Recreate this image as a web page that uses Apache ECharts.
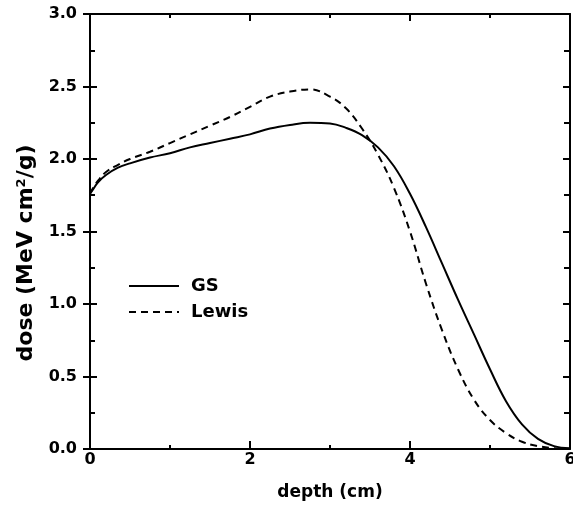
<!DOCTYPE html>
<html>
<head>
<meta charset="utf-8">
<script src="https://cdn.jsdelivr.net/npm/echarts@6/dist/echarts.min.js"></script>
<style>html,body{margin:0;padding:0;background:#fff}#c{width:573px;height:510px}</style>
</head>
<body>
<div id="c"></div>
<script>
var depth = [0, 0.05, 0.1, 0.2, 0.35, 0.5, 0.75, 1.0, 1.25, 1.5, 1.75, 2.0, 2.25, 2.5, 2.75, 3.0, 3.2, 3.4, 3.6, 3.8, 4.0, 4.2, 4.4, 4.6, 4.8, 5.0, 5.2, 5.4, 5.6, 5.8, 6.0];
var gsDose = [1.76, 1.80, 1.84, 1.89, 1.94, 1.97, 2.01, 2.04, 2.08, 2.11, 2.14, 2.17, 2.21, 2.235, 2.25, 2.245, 2.215, 2.165, 2.08, 1.95, 1.76, 1.53, 1.28, 1.03, 0.79, 0.55, 0.33, 0.17, 0.07, 0.02, 0.005];
var lewisDose = [1.76, 1.81, 1.85, 1.91, 1.96, 2.00, 2.05, 2.11, 2.17, 2.23, 2.29, 2.36, 2.43, 2.465, 2.48, 2.43, 2.35, 2.21, 2.03, 1.80, 1.50, 1.14, 0.82, 0.55, 0.34, 0.20, 0.11, 0.05, 0.02, 0.005, 0.0];
var seriesNames = ['GS', 'Lewis'];
var xTitle = 'depth (cm)';
var yTitle = 'dose (MeV cm{sup|2}/g)';

function pairs(xs, ys) { return xs.map(function (x, i) { return [x, ys[i]]; }); }

var FONT = '"DejaVu Sans", sans-serif';
function axisLine() { return { show: true, onZero: false, lineStyle: { color: '#000', width: 2 } }; }
function grid() { return { left: 90, right: 3, top: 14, bottom: 61, outerBoundsMode: 'none', containLabel: false }; }
function tick(inside, len) { return { show: true, inside: inside, length: len, lineStyle: { color: '#000', width: 2 } }; }
function minor(len) { return { show: true, splitNumber: 2, length: len, lineStyle: { color: '#000', width: 2 } }; }

var chart = echarts.init(document.getElementById('c'));
chart.setOption({
  animation: false,
  backgroundColor: '#fff',
  grid: [grid(), grid()],
  legend: {
    data: seriesNames,
    orient: 'vertical',
    left: 128, top: 277, padding: 0,
    itemWidth: 50, itemHeight: 16, itemGap: 8,
    itemStyle: { color: 'rgba(0,0,0,0)', borderColor: 'rgba(0,0,0,0)', borderWidth: 0 },
    textStyle: { fontFamily: FONT, fontWeight: 'bold', fontSize: 18, color: '#000', padding: [0, 0, 0, 7] }
  },
  xAxis: [
    { type: 'value', gridIndex: 0, position: 'bottom', min: 0, max: 6, interval: 2,
      axisLine: axisLine(), axisTick: tick(true, 8), minorTick: minor(4),
      axisLabel: { fontFamily: FONT, fontWeight: 'bold', fontSize: 16, color: '#000', margin: 3 },
      splitLine: { show: false },
      name: xTitle, nameLocation: 'middle', nameGap: 35,
      nameTextStyle: { fontFamily: FONT, fontWeight: 'bold', fontSize: 17, color: '#000' } },
    { type: 'value', gridIndex: 0, position: 'top', min: 0, max: 6, interval: 2,
      axisLine: axisLine(), axisTick: tick(true, 7), minorTick: minor(4),
      axisLabel: { show: false }, splitLine: { show: false } },
    { type: 'value', gridIndex: 1, min: 0, max: 6, show: false, axisLine: { onZero: false } }
  ],
  yAxis: [
    { type: 'value', gridIndex: 0, position: 'left', min: 0, max: 3, interval: 0.5,
      axisLine: axisLine(), axisTick: tick(false, 7),
      axisLabel: { fontFamily: FONT, fontWeight: 'bold', fontSize: 16, color: '#000', margin: 13,
        formatter: function (v) { return v.toFixed(1); } },
      splitLine: { show: false } },
    { type: 'value', gridIndex: 0, position: 'right', min: 0, max: 3, interval: 0.5,
      axisLine: axisLine(), axisTick: tick(true, 7), minorTick: minor(6),
      axisLabel: { show: false }, splitLine: { show: false } },
    { type: 'value', gridIndex: 1, position: 'left', min: 0, max: 3, interval: 0.5,
      axisLine: { show: false, onZero: false }, axisTick: tick(true, 7), minorTick: minor(5),
      axisLabel: { show: false }, splitLine: { show: false } }
  ],
  graphic: [{
    type: 'text', x: 26, y: 253, rotation: Math.PI / 2,
    style: {
      text: yTitle, align: 'center', verticalAlign: 'middle',
      fontFamily: FONT, fontWeight: 'bold', fontSize: 22, fill: '#000',
      rich: { sup: { fontFamily: FONT, fontWeight: 'bold', fontSize: 13, fill: '#000', verticalAlign: 'top' } }
    }
  }],
  series: [
    { name: seriesNames[0], type: 'line', xAxisIndex: 0, yAxisIndex: 0, data: pairs(depth, gsDose),
      smooth: 0.4, symbol: 'none', lineStyle: { color: '#000', width: 2, type: 'solid' }, itemStyle: { color: '#000' } },
    { name: seriesNames[1], type: 'line', xAxisIndex: 0, yAxisIndex: 0, data: pairs(depth, lewisDose),
      smooth: 0.4, symbol: 'none', lineStyle: { color: '#000', width: 2, type: [7, 5] }, itemStyle: { color: '#000' } }
  ]
});
</script>
</body>
</html>
